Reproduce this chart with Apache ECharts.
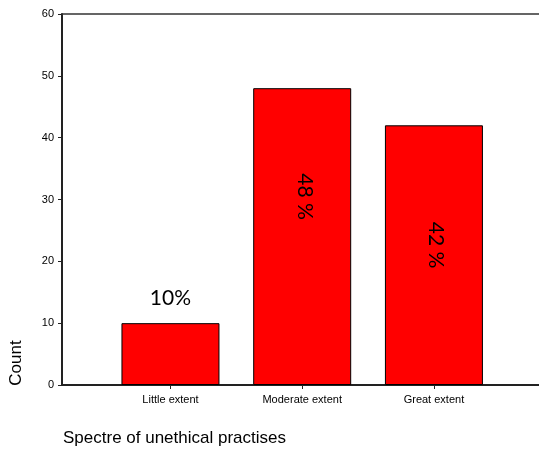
<!DOCTYPE html>
<html><head><meta charset="utf-8">
<script src="https://cdn.jsdelivr.net/npm/echarts@6/dist/echarts.min.js"></script>
<style>html,body{margin:0;padding:0;background:#fff}#c{width:539px;height:452px}</style>
</head><body><div id="c"></div>
<script>
var categories = ['Little extent', 'Moderate extent', 'Great extent'];
var counts = [10, 48, 42];
var pctLabels = ['10%', '48 %', '42 %'];
var yTicks = {min: 0, max: 60, interval: 10};
var yName = 'Count';
var xTitle = 'Spectre of unethical practises';

var font = 'Liberation Sans, Arial, sans-serif';
var pctFont = 'Lato, Liberation Sans, sans-serif';
var chart = echarts.init(document.getElementById('c'), null, {renderer: 'canvas'});

var labelStyles = [
  {show: true, position: 'top', distance: 14, fontSize: 21, color: '#000', fontFamily: pctFont},
  {show: true, position: 'inside', rotate: -90, offset: [-40, -3], fontSize: 21, color: '#000', fontFamily: pctFont},
  {show: true, position: 'inside', rotate: -90, offset: [-10, -1.5], fontSize: 21, color: '#000', fontFamily: pctFont}
];

var barData = counts.map(function (v, i) {
  var l = Object.assign({}, labelStyles[i]);
  l.formatter = pctLabels[i];
  return {value: v, label: l};
});

chart.setOption({
  animation: false,
  backgroundColor: '#fff',
  textStyle: {fontFamily: font},
  grid: [
    {left: 62, right: 0, top: 14, bottom: 67},
    {left: 104.6, right: 39.2, top: 14, bottom: 67}
  ],
  xAxis: [
    {gridIndex: 0, type: 'value', position: 'bottom', min: 0, max: 1,
     axisLine: {show: true, lineStyle: {color: '#222', width: 2}},
     axisTick: {show: false}, axisLabel: {show: false}, splitLine: {show: false}},
    {gridIndex: 0, type: 'value', position: 'top', min: 0, max: 1,
     axisLine: {show: true, lineStyle: {color: '#333', width: 1.5}},
     axisTick: {show: false}, axisLabel: {show: false}, splitLine: {show: false}},
    {gridIndex: 1, type: 'category', data: categories,
     axisLine: {show: false},
     axisTick: {show: true, alignWithLabel: true, length: 4, lineStyle: {color: '#222', width: 1}},
     axisLabel: {fontSize: 11, color: '#000', margin: 9, fontFamily: font}}
  ],
  yAxis: [
    {gridIndex: 0, type: 'value', min: yTicks.min, max: yTicks.max, interval: yTicks.interval,
     axisLine: {show: true, lineStyle: {color: '#222', width: 2}},
     axisTick: {show: true, length: 4, lineStyle: {color: '#222', width: 1}},
     axisLabel: {fontSize: 11, color: '#000', margin: 8, fontFamily: font},
     splitLine: {show: false}},
    {gridIndex: 1, type: 'value', min: yTicks.min, max: yTicks.max, interval: yTicks.interval, show: false}
  ],
  series: [{
    type: 'bar', xAxisIndex: 2, yAxisIndex: 1,
    barWidth: 98,
    itemStyle: {color: '#ff0000', borderColor: '#000', borderWidth: 1},
    data: barData
  }],
  graphic: [
    {type: 'text', x: 16.5, y: 363, rotation: Math.PI / 2,
     style: {text: yName, fill: '#000', font: '17px ' + font, textAlign: 'center', textVerticalAlign: 'middle'}},
    {type: 'text', left: 63, top: 430,
     style: {text: xTitle, fill: '#000', font: '17px ' + font}}
  ]
});
</script></body></html>
